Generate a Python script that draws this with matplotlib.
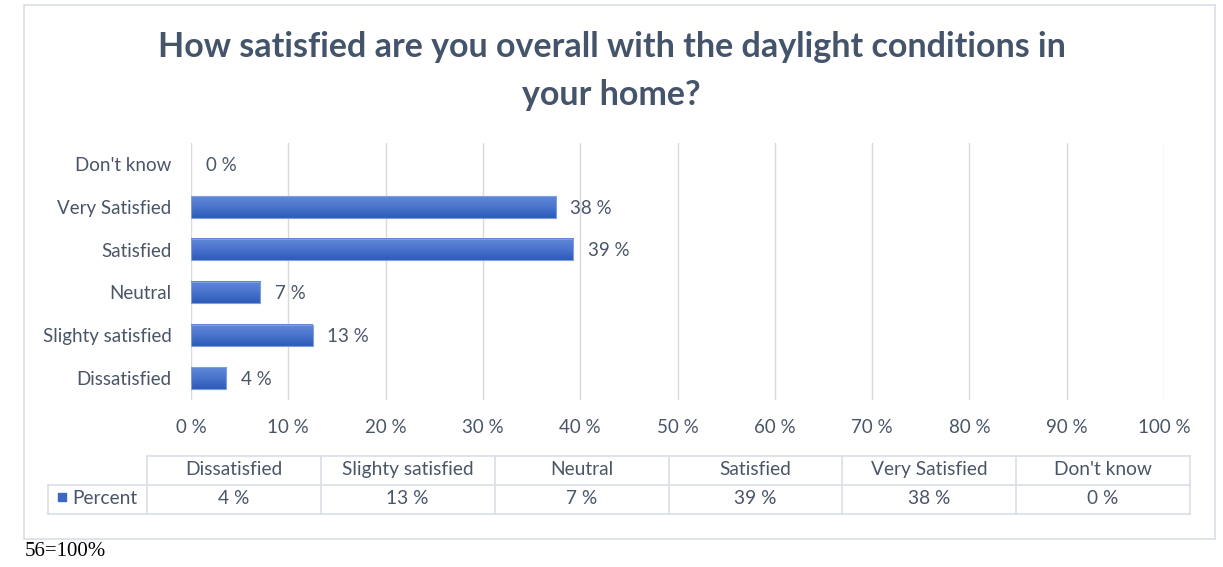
import numpy as np
import matplotlib
matplotlib.use("Agg")
import matplotlib.pyplot as plt
from matplotlib.colors import LinearSegmentedColormap
from matplotlib.patches import Rectangle

plt.rcParams['font.family'] = ['Lato', 'DejaVu Sans']

# Data (bottom to top as drawn)
categories = ["Dissatisfied", "Slighty satisfied", "Neutral", "Satisfied", "Very Satisfied", "Don't know"]
percent = [3.6, 12.5, 7.1, 39.3, 37.5, 0.0]
labels = ["4 %", "13 %", "7 %", "39 %", "38 %", "0 %"]
xticks = list(range(0, 101, 10))
series_name = "Percent"
title = "How satisfied are you overall with the daylight conditions in\nyour home?"
footnote = "56=100%"

text_col = "#4A5568"
grid_col = "#D9D9D9"
border_col = "#D9DEE6"
bar_cmap = LinearSegmentedColormap.from_list("bar", ["#2C5BB8", "#4A74CC", "#6088D8"])
fs = 13.5

W, H = 1223, 567
fig = plt.figure(figsize=(W / 100, H / 100), dpi=100)

# background overlay in pixel coordinates for border, table and footnote
bg = fig.add_axes([0, 0, 1, 1])
bg.set_xlim(0, W)
bg.set_ylim(H, 0)
bg.axis("off")
bg.add_patch(Rectangle((24, 5), 1191, 534, fill=False, ec=border_col, lw=1.2))

# main bar axes
ax = fig.add_axes([191 / W, 1 - 399.5 / H, (1164 - 191) / W, (399.5 - 142.6) / H])
ax.set_facecolor("none")
y = np.arange(len(categories))
grad = np.linspace(0, 1, 64).reshape(-1, 1)
for yi, v, lab in zip(y, percent, labels):
    if v > 0:
        ax.imshow(grad, cmap=bar_cmap, aspect="auto", origin="lower",
                  extent=[0, v, yi - 0.25, yi + 0.25], zorder=2)
        ax.add_patch(Rectangle((0, yi - 0.25), v, 0.5, fill=False, ec="#7F9EDD", lw=0.8, zorder=3))
    ax.text(v + 1.5, yi - 0.03, lab, va="center", ha="left", fontsize=fs, color=text_col)

ax.set_xlim(0, 100)
ax.set_ylim(-0.5, len(categories) - 0.5)
ax.set_xticks(xticks)
ax.set_xticklabels([f"{t} %" for t in xticks])
ax.set_yticks(y)
ax.set_yticklabels(categories)
ax.tick_params(axis="both", length=0, labelsize=fs, colors=text_col)
ax.tick_params(axis="x", pad=14)
ax.tick_params(axis="y", pad=14)
ax.grid(axis="x", color=grid_col, lw=1)
ax.set_axisbelow(True)
for s in ax.spines.values():
    s.set_visible(False)

fig.text(0.5, 1 - 71 / H, title, ha="center", va="center", fontsize=24.5, fontweight="bold",
         color="#44546A", linespacing=1.6)

# data table below the chart
col_edges = np.linspace(147, 1190, len(categories) + 1)
top, mid, bot = 456, 485, 514
bg.plot([col_edges[0], col_edges[-1]], [top, top], color=border_col, lw=1.2)
bg.plot([48, col_edges[-1]], [mid, mid], color=border_col, lw=1.2)
bg.plot([48, col_edges[-1]], [bot, bot], color=border_col, lw=1.2)
bg.plot([48, 48], [mid, bot], color=border_col, lw=1.2)
for xe in col_edges:
    bg.plot([xe, xe], [top, bot], color=border_col, lw=1.2)
for i, (cat, lab) in enumerate(zip(categories, labels)):
    xc = (col_edges[i] + col_edges[i + 1]) / 2
    bg.text(xc, (top + mid) / 2 - 1, cat, ha="center", va="center", fontsize=fs + 0.3, color=text_col)
    bg.text(xc, (mid + bot) / 2 - 1, lab, ha="center", va="center", fontsize=fs + 0.3, color=text_col)
bg.add_patch(Rectangle((58, 493), 8, 8, color="#3A66C4"))
bg.text(72, (mid + bot) / 2 - 1, series_name, ha="left", va="center", fontsize=fs + 0.3, color=text_col)

bg.text(25, 551, footnote, ha="left", va="center", fontsize=15, color="black", family="Liberation Serif")

fig.savefig("out.png", dpi=100)
